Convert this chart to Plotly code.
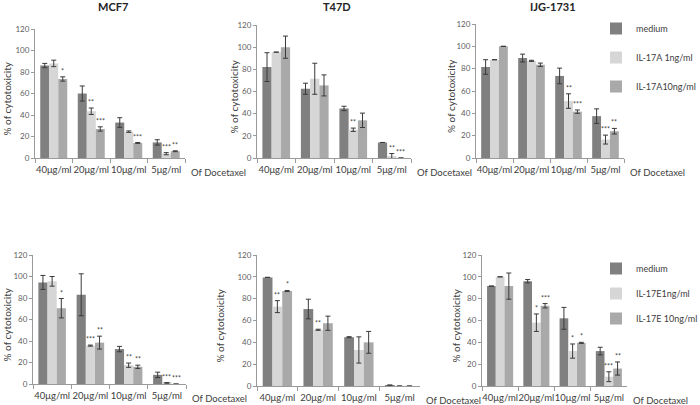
import plotly.graph_objects as go

W, H = 700, 405

categories = ["40μg/ml", "20μg/ml", "10μg/ml", "5μg/ml"]
series_top = ["medium", "IL-17A 1ng/ml", "IL-17A10ng/ml"]
series_bottom = ["medium", "IL-17E1ng/ml", "IL-17E 10ng/ml"]
panel_titles = ["MCF7", "T47D", "IJG-1731", "", "", ""]

# ---- MCF7, IL-17A ----
mcf7_a_medium = [86, 60, 33, 14.5]
mcf7_a_medium_err = [2, 7, 4.5, 2.5]
mcf7_a_low = [88, 43.5, 24.5, 4]
mcf7_a_low_err = [3, 3, 0.7, 1]
mcf7_a_high = [73.5, 27, 14, 6.3]
mcf7_a_high_err = [2, 2, 0.4, 0.4]
mcf7_a_low_sig = ["", "**", "", "***"]
mcf7_a_high_sig = ["*", "***", "***", "**"]

# ---- T47D, IL-17A ----
t47d_a_medium = [82, 62.5, 44.7, 14]
t47d_a_medium_err = [13, 5, 2, 0]
t47d_a_low = [95.5, 71.5, 25.5, 1.5]
t47d_a_low_err = [0, 14, 1.5, 2.5]
t47d_a_high = [100, 65.5, 34, 0]
t47d_a_high_err = [10, 9.5, 6.5, 0]
t47d_a_low_sig = ["", "", "**", "**"]
t47d_a_high_sig = ["", "", "", "***"]

# ---- IJG-1731, IL-17A ----
ijg_a_medium = [81.5, 89.5, 73.5, 37.5]
ijg_a_medium_err = [6.5, 3.5, 7, 6.5]
ijg_a_low = [88, 87, 51, 16.5]
ijg_a_low_err = [0, 0.5, 6.5, 4]
ijg_a_high = [100, 83.5, 41.5, 24]
ijg_a_high_err = [0, 1.5, 1.5, 2.5]
ijg_a_low_sig = ["", "", "**", "***"]
ijg_a_high_sig = ["", "", "***", "**"]

# ---- MCF7, IL-17E ----
mcf7_e_medium = [94.5, 83, 32.5, 8.5]
mcf7_e_medium_err = [6.5, 19.5, 2.5, 2.5]
mcf7_e_low = [95.5, 35.7, 17.5, 1]
mcf7_e_low_err = [4.5, 0.5, 2, 0.3]
mcf7_e_high = [70.5, 38.5, 16, 0]
mcf7_e_high_err = [9, 6, 1.5, 0]
mcf7_e_low_sig = ["", "***", "**", "***"]
mcf7_e_high_sig = ["*", "**", "**", "***"]

# ---- T47D, IL-17E ----
t47d_e_medium = [99.5, 70.5, 44.7, 0.8]
t47d_e_medium_err = [0, 9, 0.5, 0]
t47d_e_low = [72.7, 51.5, 33, 0]
t47d_e_low_err = [5.5, 0.5, 12, 0]
t47d_e_high = [87, 57.5, 40, 0]
t47d_e_high_err = [0.5, 6.5, 10, 0]
t47d_e_low_sig = ["**", "**", "", ""]
t47d_e_high_sig = ["*", "", "", ""]

# ---- IJG-1731, IL-17E ----
ijg_e_medium = [91.5, 96, 62, 32]
ijg_e_medium_err = [0, 1.5, 10, 3.5]
ijg_e_low = [100, 58, 32, 8.5]
ijg_e_low_err = [0, 8, 6.5, 4.5]
ijg_e_high = [91.5, 73.5, 39.5, 16]
ijg_e_high_err = [12, 2, 0.5, 6]
ijg_e_low_sig = ["", "*", "*", "***"]
ijg_e_high_sig = ["", "***", "*", "**"]

panels = [
    (mcf7_a_medium, mcf7_a_medium_err, mcf7_a_low, mcf7_a_low_err, mcf7_a_high, mcf7_a_high_err, mcf7_a_low_sig, mcf7_a_high_sig),
    (t47d_a_medium, t47d_a_medium_err, t47d_a_low, t47d_a_low_err, t47d_a_high, t47d_a_high_err, t47d_a_low_sig, t47d_a_high_sig),
    (ijg_a_medium, ijg_a_medium_err, ijg_a_low, ijg_a_low_err, ijg_a_high, ijg_a_high_err, ijg_a_low_sig, ijg_a_high_sig),
    (mcf7_e_medium, mcf7_e_medium_err, mcf7_e_low, mcf7_e_low_err, mcf7_e_high, mcf7_e_high_err, mcf7_e_low_sig, mcf7_e_high_sig),
    (t47d_e_medium, t47d_e_medium_err, t47d_e_low, t47d_e_low_err, t47d_e_high, t47d_e_high_err, t47d_e_low_sig, t47d_e_high_sig),
    (ijg_e_medium, ijg_e_medium_err, ijg_e_low, ijg_e_low_err, ijg_e_high, ijg_e_high_err, ijg_e_low_sig, ijg_e_high_sig),
]

# pixel boxes (window coords) of each plot area: (x0, x1, ytop, ybottom)
boxes = [
    (35, 185, 29, 158),
    (257, 411, 25, 158),
    (476, 624, 24, 158),
    (33, 186, 255, 384),
    (257, 420, 255, 386),
    (482, 627, 255, 386),
]
# horizontal pixel position of each y-axis title
ytitle_x = [6, 233, 451, 6, 219, 455]


def px(x):
    return x / W


def py(y):
    return 1 - y / H


colors = ["#808080", "#d6d6d6", "#a9a9a9"]
FONT = "Lato, 'Open Sans', sans-serif"
TXT = "#404040"
AX = "#9a9a9a"
BARGAP = 0.28

fig = go.Figure()
annotations = []
layout_axes = {}

for i, (box, data) in enumerate(zip(boxes, panels)):
    n = i + 1
    xa = "x" if n == 1 else f"x{n}"
    ya = "y" if n == 1 else f"y{n}"
    med, med_e, low, low_e, high, high_e, low_sig, high_sig = data
    names = series_top if i < 3 else series_bottom
    legend_name = "legend" if i < 3 else "legend2"
    show = (i == 2) or (i == 5)
    for k, (vals, errs) in enumerate([(med, med_e), (low, low_e), (high, high_e)]):
        fig.add_trace(go.Bar(
            x=categories, y=vals, name=names[k], xaxis=xa, yaxis=ya,
            marker=dict(color=colors[k], line=dict(width=0)),
            error_y=dict(type="data", array=errs, visible=True, color="#3a3a3a", thickness=1, width=2.5),
            showlegend=show, legend=legend_name, legendgroup=f"{legend_name}_{k}",
        ))
    x0, x1, yt, yb = box
    layout_axes[f"xaxis{'' if n == 1 else n}"] = dict(
        domain=[px(x0), px(x1)], anchor=ya, type="category", automargin=False,
        showline=True, linecolor=AX, linewidth=1, ticks="outside", tickson="boundaries",
        ticklen=4, tickcolor=AX, showgrid=False, zeroline=False, tickangle=0,
        ticklabelstandoff=3,
        tickfont=dict(family=FONT, size=9.5, color=TXT), fixedrange=True,
    )
    layout_axes[f"yaxis{'' if n == 1 else n}"] = dict(
        domain=[py(yb), py(yt)], anchor=xa, range=[0, 120], dtick=20, automargin=False,
        showline=True, linecolor=AX, linewidth=1, ticks="outside", ticklen=3, tickcolor=AX,
        showgrid=False, zeroline=False, tickfont=dict(family=FONT, size=8, color="#606060"),
    )
    # significance marks
    cat_w = (x1 - x0) / len(categories)
    bar_w = cat_w * (1 - BARGAP) / 3
    for k, (vals, errs, sig) in enumerate([(low, low_e, low_sig), (high, high_e, high_sig)]):
        for c, v, e, s in zip(categories, vals, errs, sig):
            if s:
                annotations.append(dict(
                    x=c, y=v + e, xref=xa, yref=ya, text=s, showarrow=False,
                    xshift=k * bar_w, yanchor="bottom",
                    font=dict(family=FONT, size=7, color=TXT),
                ))
    # "Of Docetaxel" label
    annotations.append(dict(
        x=px(x1 + 4), y=py(yb + 14), xref="paper", yref="paper",
        text="Of Docetaxel", showarrow=False, xanchor="left", yanchor="middle",
        font=dict(family=FONT, size=9.5, color=TXT),
    ))
    # y-axis title
    annotations.append(dict(
        x=px(ytitle_x[i]), y=py((yt + yb) / 2 + 5), xref="paper", yref="paper",
        text="% of cytotoxicity", showarrow=False, textangle=-90,
        xanchor="center", yanchor="middle",
        font=dict(family=FONT, size=10, color=TXT),
    ))
    if panel_titles[i]:
        annotations.append(dict(
            x=px((x0 + x1) / 2 + 3), y=py(7), xref="paper", yref="paper",
            text=f"<b>{panel_titles[i]}</b>", showarrow=False, xanchor="center", yanchor="middle",
            font=dict(family=FONT, size=11, color="#222222"),
        ))

fig.update_layout(
    width=W, height=H, margin=dict(l=0, r=0, t=0, b=0, autoexpand=False),
    paper_bgcolor="white", plot_bgcolor="white",
    barmode="group", bargap=BARGAP, bargroupgap=0,
    annotations=annotations,
    legend=dict(x=px(596), y=py(14), xanchor="left", yanchor="top",
                font=dict(family=FONT, size=9, color=TXT), tracegroupgap=10,
                itemwidth=30, bgcolor="rgba(0,0,0,0)"),
    legend2=dict(x=px(596), y=py(254), xanchor="left", yanchor="top",
                 font=dict(family=FONT, size=9, color=TXT), tracegroupgap=6,
                 itemwidth=30, bgcolor="rgba(0,0,0,0)"),
    **layout_axes,
)

# remove the browser's default page margin so the 700x405 figure fills the window
fig.write_html("out.html", config={"displayModeBar": False},
               post_script="document.body.style.margin='0';")
